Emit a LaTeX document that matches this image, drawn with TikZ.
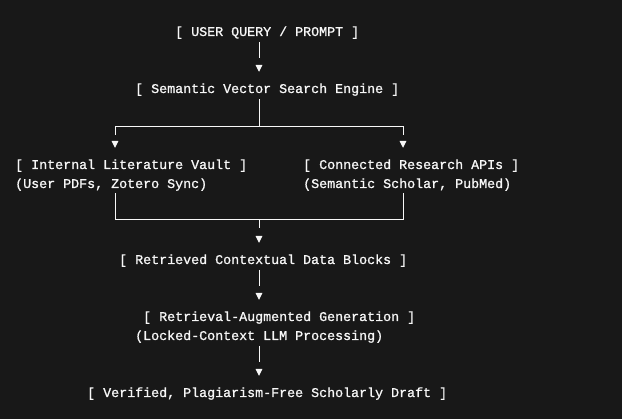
\documentclass[tikz,border=0pt]{standalone}
\usepackage{fontspec}
\setmonofont[FakeBold=0.9]{Liberation Mono}
\usetikzlibrary{arrows.meta,calc}
\definecolor{bg}{HTML}{181818}
\definecolor{fg}{HTML}{F7F7F7}
\begin{document}
\begin{tikzpicture}[x=1pt,y=1pt,
  txt/.style={inner sep=0pt, anchor=base west, text=fg,
    font=\ttfamily\fontsize{13.33}{19}\selectfont, text height=10pt, text depth=3pt},
  wire/.style={draw=fg, line width=1pt},
  flow/.style={wire, dash pattern=on 16.6pt off 400pt, shorten <=2.6pt, shorten >=11pt,
    -{Triangle[width=6.5pt,length=6.8pt]}},
]
\fill[bg] (0,0) rectangle (622,-419);
\useasboundingbox (0,0) rectangle (622,-419);
\coordinate (spine) at (259,0);
\coordinate (lbr) at (115,0);
\coordinate (rbr) at (403,0);
\coordinate (split) at (259,-126.5);
\coordinate (merge) at (259,-220);

\node[txt] (user) at (175,-36) {[ USER QUERY / PROMPT ]};
\node[txt] (sem) at (135,-93) {[ Semantic Vector Search Engine ]};
\node[txt] (vault) at (15,-169) {[ Internal Literature Vault ]};
\node[txt] (vaultsub) at (15,-188) {(User PDFs, Zotero Sync)};
\node[txt] (apis) at (303,-169) {[ Connected Research APIs ]};
\node[txt] (apissub) at (303,-188) {(Semantic Scholar, PubMed)};
\node[txt] (ctx) at (119,-264) {[ Retrieved Contextual Data Blocks ]};
\node[txt] (rag) at (143,-321) {[ Retrieval-Augmented Generation ]};
\node[txt] (ragsub) at (135,-340) {(Locked-Context LLM Processing)};
\node[txt] (draft) at (87,-397) {[ Verified, Plagiarism-Free Scholarly Draft ]};

\draw[flow] (user.south -| spine) -- (sem.north -| spine);

\draw[wire] ($(sem.south -| spine)+(0,-3)$) -- (split);
\draw[flow, dash pattern=on 152.5pt off 400pt, shorten <=0pt] (split) -| (vault.north -| lbr);
\draw[flow, dash pattern=on 152.5pt off 400pt, shorten <=0pt] (split) -| (apis.north -| rbr);

\draw[wire, shorten <=2.3pt] (vaultsub.south -| lbr) |- (merge);
\draw[wire, shorten <=2.3pt] (apissub.south -| rbr) |- (merge);
\draw[flow, dash pattern=on 8pt off 400pt, shorten <=0pt] (merge) -- (ctx.north -| spine);

\draw[flow] (ctx.south -| spine) -- (rag.north -| spine);
\draw[flow] (ragsub.south -| spine) -- (draft.north -| spine);
\end{tikzpicture}
\end{document}
